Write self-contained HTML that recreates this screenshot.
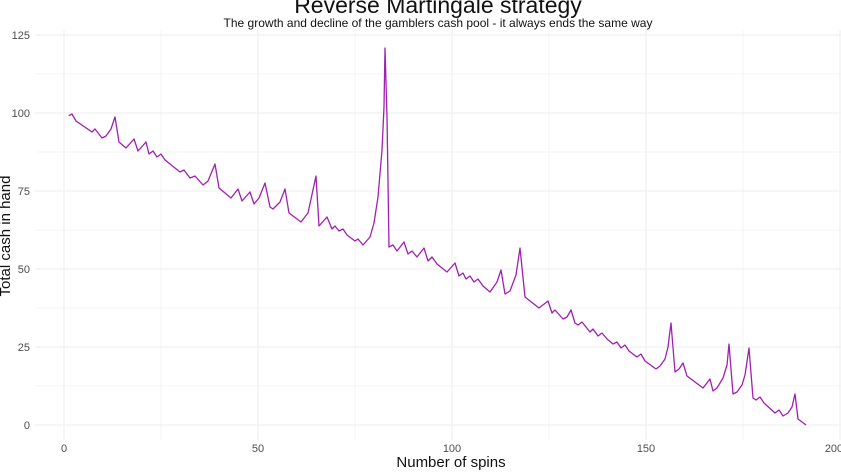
<!DOCTYPE html>
<html><head><style>
body{margin:0;background:#fff;}
svg text{font-family:"Liberation Sans",sans-serif;}
</style></head><body>
<svg width="841" height="470" xmlns="http://www.w3.org/2000/svg">
<g stroke="#f4f4f4" stroke-width="1">
<line x1="35" y1="74" x2="841" y2="74"/>
<line x1="35" y1="152" x2="841" y2="152"/>
<line x1="35" y1="230" x2="841" y2="230"/>
<line x1="35" y1="308" x2="841" y2="308"/>
<line x1="35" y1="386" x2="841" y2="386"/>
<line x1="161" y1="30" x2="161" y2="440"/>
<line x1="355" y1="30" x2="355" y2="440"/>
<line x1="549" y1="30" x2="549" y2="440"/>
<line x1="743" y1="30" x2="743" y2="440"/>
</g>
<g stroke="#ededed" stroke-width="1">
<line x1="35" y1="35" x2="841" y2="35"/><line x1="35" y1="113" x2="841" y2="113"/>
<line x1="35" y1="191" x2="841" y2="191"/><line x1="35" y1="269" x2="841" y2="269"/>
<line x1="35" y1="347" x2="841" y2="347"/><line x1="35" y1="425" x2="841" y2="425"/>
<line x1="64" y1="30" x2="64" y2="440"/><line x1="258" y1="30" x2="258" y2="440"/>
<line x1="452" y1="30" x2="452" y2="440"/><line x1="646" y1="30" x2="646" y2="440"/>
<line x1="840" y1="30" x2="840" y2="440"/>
</g>
<polyline fill="none" stroke="#a020b0" stroke-width="1.3" stroke-linejoin="round" points="68.7,115.7 72,114 76,121 92,132 95,129 102,138 106,136 111,129 115,117 119,142 126,148 134,139 138,151 146,142 149,154 153,151 157,157 161,154 165,160 180,172 184,170 190,178 195,176 203,185 208,181 215,164 219,188 231,198 238,189 242,201 250,192 254,204 259,198 265,183 270,207 273,209 280,202 285,189 289,213 301,222 308,213 316,176 319,226 327,217 332,229 335,226 339,231 343,229 347,235 355,241 358,239 363,245 370,237 374,223 378,197 382,150 384,107 385,48 387,117 389,247 393,245 397,251 404,242 408,254 412,251 417,257 424,248 428,261 432,257 437,264 447,272 455,263 459,276 463,273 466,279 470,276 474,282 478,279 483,286 490,292 497,282 501,270 505,294 510,291 516,275 520,248 525,297 539,308 548,301 552,313 555,310 563,319 567,317 571,310 575,323 578,325 582,322 590,332 593,329 598,336 602,333 607,339 613,344 617,342 621,348 625,345 629,351 637,357 641,354 645,361 656,369 660,366 665,359 668,347 671,323 675,372 679,369 683,363 687,376 703,388 710,379 713,391 717,388 723,378 727,365 729,344 733,394 737,392 742,385 745,375 749,348 753,398 756,400 760,397 764,403 775,413 779,410 783,416 788,413 792,407 795,394 798,419 806,425"/>
<g fill="#4d4d4d" font-size="11" text-anchor="end">
<text x="30" y="39">125</text><text x="30" y="117">100</text><text x="30" y="195">75</text>
<text x="30" y="273">50</text><text x="30" y="351">25</text><text x="30" y="429">0</text>
</g>
<g fill="#4d4d4d" font-size="11" text-anchor="middle">
<text x="64" y="452">0</text><text x="258" y="452">50</text><text x="452" y="452">100</text>
<text x="646" y="452">150</text><text x="834" y="452">200</text>
</g>
<text x="438" y="13" font-size="23" text-anchor="middle" fill="#111">Reverse Martingale strategy</text>
<text x="438" y="27" font-size="12" text-anchor="middle" fill="#111">The growth and decline of the gamblers cash pool - it always ends the same way</text>
<text x="451" y="467" font-size="15" text-anchor="middle" fill="#111">Number of spins</text>
<text transform="translate(10,236) rotate(-90)" font-size="15" text-anchor="middle" fill="#111">Total cash in hand</text>
</svg>
</body></html>
